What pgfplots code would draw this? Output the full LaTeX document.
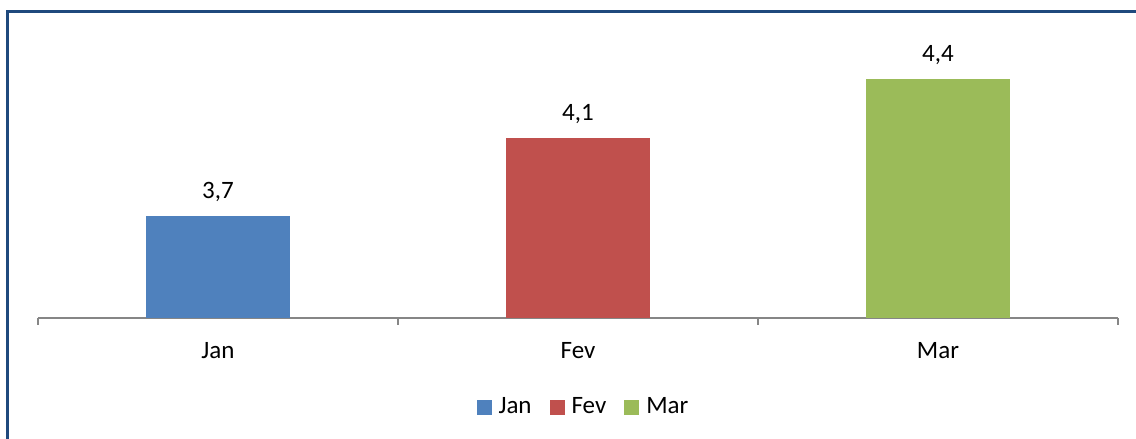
\documentclass[border=0pt]{standalone}
\usepackage{pgfplots}
\pgfplotsset{compat=1.18}
\usepackage{fontspec}
\setmainfont{Carlito}
\definecolor{cJan}{HTML}{4F81BD}
\definecolor{cFev}{HTML}{C0504D}
\definecolor{cMar}{HTML}{9BBB59}
\definecolor{axisgray}{HTML}{868686}
\definecolor{frame}{HTML}{1F497D}
\newcommand\cf{\fontsize{12.5pt}{15pt}\selectfont}
\begin{document}
\begin{tikzpicture}[x=0.5pt,y=0.5pt]
\useasboundingbox (0,0) rectangle (1136,439);
\draw[color=frame, line width=1.25pt] (7.5,0) -- (7.5,427.5) -- (1140,427.5);
\begin{axis}[
  at={(19pt,60.5pt)}, anchor=south west,
  scale only axis, width=540pt, height=149pt,
  xmin=-0.5, xmax=2.5, ymin=3.18, ymax=4.70,
  axis x line=bottom, axis y line=none,
  x axis line style={draw=axisgray, line width=1pt, -},
  xtick={-0.5,0.5,1.5,2.5}, x tick label as interval, xticklabels={Jan,Fev,Mar},
  tick align=outside, major tick length=3.5pt,
  x tick style={draw=axisgray, line width=1pt},
  ytick=\empty,
  xticklabel style={font=\cf, text=black, yshift=-5pt},
  ybar, bar width=72pt,
  clip=false,
  nodes near coords,
  every node near coord/.append style={font=\cf, text=black, yshift=3.5pt},
  /pgf/number format/.cd, use comma, fixed, fixed zerofill, precision=1, assume math mode=true, /pgfplots/.cd,
  legend style={at={(0.506,-0.299)}, anchor=center, draw=none, fill=none, font=\cf,
    legend columns=3,
    /tikz/every odd column/.append style={column sep=1.5pt},
    /tikz/every even column/.append style={column sep=7pt}},
  legend image code/.code={\fill[#1] (0pt,-3.75pt) rectangle (7.5pt,3.75pt);},
]
\addplot[fill=cJan, draw=none, bar shift=0pt] coordinates {(0,3.7)};
\addlegendentry{Jan}
\addplot[fill=cFev, draw=none, bar shift=0pt] coordinates {(1,4.1)};
\addlegendentry{Fev}
\addplot[fill=cMar, draw=none, bar shift=0pt] coordinates {(2,4.4)};
\addlegendentry{Mar}
\end{axis}
\end{tikzpicture}
\end{document}
